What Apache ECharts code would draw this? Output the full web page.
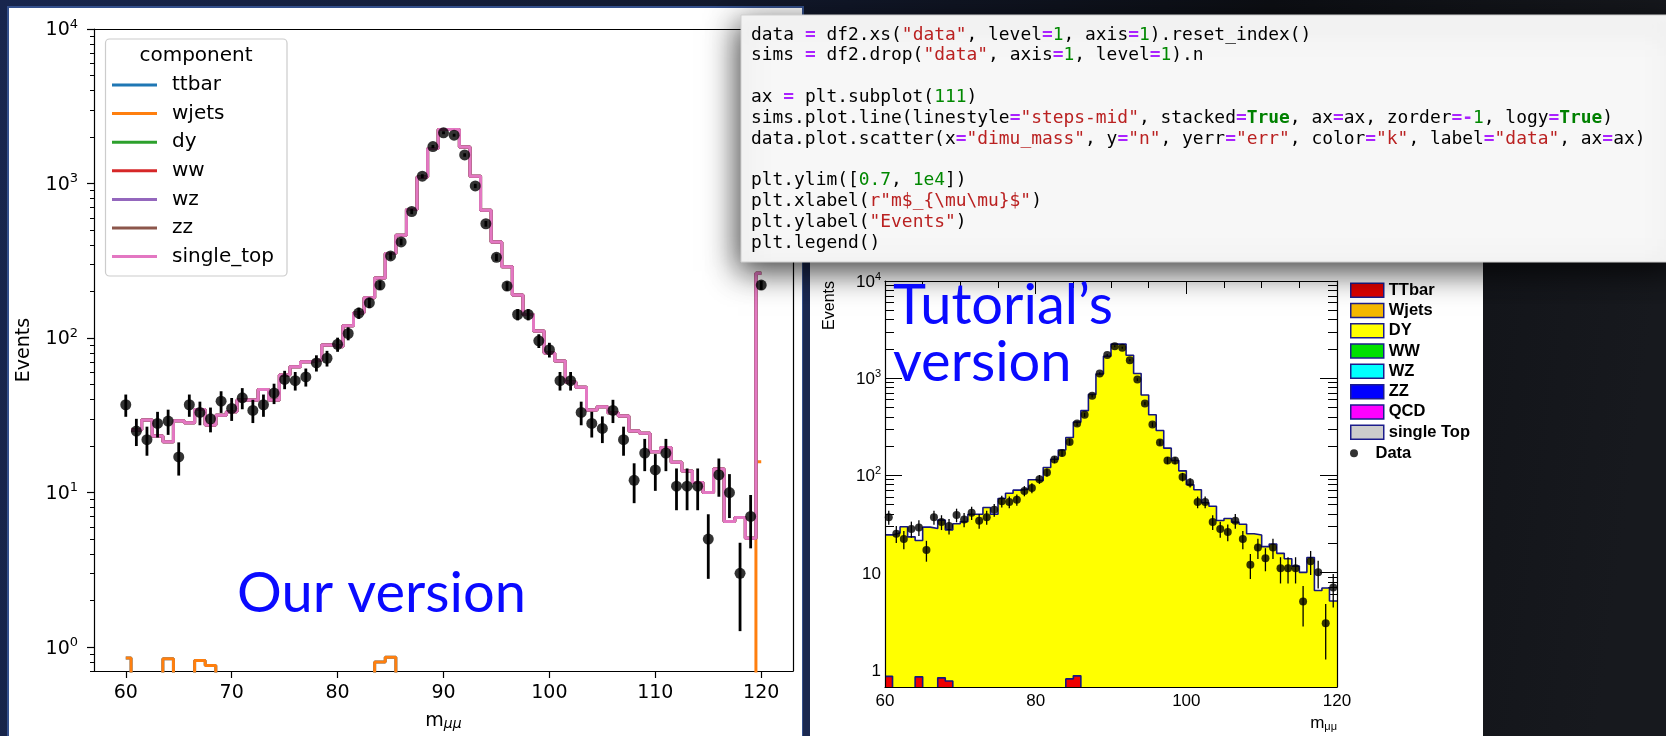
<!DOCTYPE html>
<html>
<head>
<meta charset="utf-8">
<script src="https://cdn.jsdelivr.net/npm/echarts@6/dist/echarts.min.js"></script>
<style>
html,body{margin:0;padding:0;background:#10162a;overflow:hidden;}
#c{width:1666px;height:736px;}
</style>
</head>
<body>
<div id="c"></div>
<script>
// ================= DATA =================
// dimuon mass bins (GeV): lower and upper edges
const binLow  = [60,61,62,63,64,65,66,67,68,69,70,71,72,73,74,75,76,77,78,79,80,81,82,83,84,85,86,87,88,89,
                 90,91,92,93,94,95,96,97,98,99,100,101,102,103,104,105,106,107,108,109,110,111,112,113,114,115,116,117,118,119];
const binHigh = [61,62,63,64,65,66,67,68,69,70,71,72,73,74,75,76,77,78,79,80,81,82,83,84,85,86,87,88,89,90,
                 91,92,93,94,95,96,97,98,99,100,101,102,103,104,105,106,107,108,109,110,111,112,113,114,115,116,117,118,119,120];
// observed events per bin
const dataCounts = [37,25,22,28,29,17,37,33,30,39,35,41,34,37,44,54,53,56,69,74,
                    91,107,145,169,220,340,419,659,1115,1735,2130,2055,1530,965,549,333,217,142,142,96,
                    84,53,53,33,28,26,34,22,12,18,14,18,11,11,11,5,13,10,3,7];
// total stacked simulation per bin (DY dominated)
const simTotal = [24.3,25.4,29.5,23.2,21.3,29.2,28.3,34.5,27.4,31.7,33.3,39.7,39.7,46.5,39.7,57.6,65.2,70.2,72,90,
                  87.7,120,146,182,245,352,463,680,1102,1682,2240,2240,1722,1114,671,419,289,190,142,111,
                  80,71,52,48,34.2,35.9,32.9,31.3,25,24.2,18.4,19.6,15.7,13.8,11.6,10.0,14.2,6.5,6.9,5.07];
// ttbar per bin
const ttbarCounts = [0.85,0,0,0,0.84,0,0,0.82,0.76,0,0,0,0,0,0,0,0,0,0,0,
                     0,0,0,0,0.80,0.86,0,0,0,0,0,0,0,0,0,0,0,0,0,0,
                     0,0,0,0,0,0,0,0,0,0,0,0,0,0,0,0,0,0,0,0];
// W+jets per bin
const wjetsCounts = [0,0,0,0,0,0,0,0,0,0,0,0,0,0,0,0,0,0,0,0,
                     0,0,0,0,0,0,0,0,0,0,0,0,0,0,0,0,0,0,0,0,
                     0,0,0,0,0,0,0,0,0,0,0,0,0,0,0,0,0,0,0,0];
// extra point at m = 120 in "our version"
const overflowMass = 120;
const overflowData = 220;
const overflowTotal = 263;
const overflowTtbarWjets = 15.8;
const overflowTtbar = 0;

// tick labels
const leftMassTicks = [60,70,80,90,100,110,120];
const decadeExponents = [0,1,2,3,4];

// legends
const componentNames  = ['ttbar','wjets','dy','ww','wz','zz','single_top'];
const componentColors = ['#1f77b4','#ff7f0e','#2ca02c','#d62728','#9467bd','#8c564b','#e377c2'];
const rootNames  = ['TTbar','Wjets','DY','WW','WZ','ZZ','QCD','single Top'];
const rootColors = ['#e00000','#f5b800','#ffff00','#00e000','#00ffff','#0000ff','#ff00ff','#cccccc'];

// code cell text
const codeLines = [
  'data = df2.xs("data", level=1, axis=1).reset_index()',
  'sims = df2.drop("data", axis=1, level=1).n',
  '',
  'ax = plt.subplot(111)',
  'sims.plot.line(linestyle="steps-mid", stacked=True, ax=ax, zorder=-1, logy=True)',
  'data.plot.scatter(x="dimu_mass", y="n", yerr="err", color="k", label="data", ax=ax)',
  '',
  'plt.ylim([0.7, 1e4])',
  'plt.xlabel(r"m$_{\\mu\\mu}$")',
  'plt.ylabel("Events")',
  'plt.legend()'
];

// ================= helpers =================
const FLOOR = -3; // log10 value used for empty bins (below the axis, clipped)
function lg(v){ return v == null ? null : (v > 0 ? Math.log10(v) : FLOOR); }

// matplotlib "steps-mid" vertices
function stepsMid(xs, ys){
  const pts = [];
  for (let i = 0; i < xs.length; i++){
    const y = ys[i];
    if (y == null){ pts.push('-'); continue; }
    const l = i === 0 ? xs[0] : (xs[i-1] + xs[i]) / 2;
    const r = i === xs.length - 1 ? xs[i] : (xs[i] + xs[i+1]) / 2;
    pts.push([l, lg(y)], [r, lg(y)]);
  }
  return pts;
}
// ROOT histogram outline
function histSteps(ys){
  const pts = [];
  for (let i = 0; i < ys.length; i++){
    pts.push([binLow[i], lg(ys[i])], [binHigh[i], lg(ys[i])]);
  }
  return pts;
}
function minorLogTicks(minLog, maxLog){
  const out = [];
  for (let k = -1; k <= 3; k++) for (let m = 2; m <= 9; m++){
    const v = Math.log10(m * Math.pow(10, k));
    if (v >= minLog - 1e-9 && v <= maxLog + 1e-9) out.push(v);
  }
  return out;
}

const mplFont = 'DejaVu Sans';
const rootFont = 'Liberation Sans';
const LEFT_YMIN = Math.log10(0.7);
const ROOT_YMIN = Math.log10(0.66);
const YMAX = 4;

// ---- left ("our version") arrays ----
const leftX = binLow.concat([overflowMass]);
const leftCounts = dataCounts.concat([overflowData]);
const ttbarLeft = ttbarCounts.concat([overflowTtbar]);
const wjetsCumLeft = ttbarCounts.map((v, i) => v + wjetsCounts[i]).concat([overflowTtbarWjets]);
// DY and later components have no entry for the first mass value in our version
const dyCumLeft = [null].concat(simTotal.slice(1), [overflowTotal]);
const leftCumulative = [ttbarLeft, wjetsCumLeft, dyCumLeft, dyCumLeft, dyCumLeft, dyCumLeft, dyCumLeft];

const rootCenters = binLow.map((lo, i) => (lo + binHigh[i]) / 2);

// ================= series =================
const series = [];
componentNames.forEach((name, i) => {
  series.push({
    type: 'line', name, xAxisIndex: 0, yAxisIndex: 0,
    data: stepsMid(leftX, leftCumulative[i]),
    showSymbol: false, symbol: 'none', connectNulls: false, clip: true, silent: true,
    lineStyle: { color: componentColors[i], width: 3 },
    itemStyle: { color: componentColors[i] },
    z: 2
  });
});
series.push({
  type: 'custom', name: 'data-err', xAxisIndex: 0, yAxisIndex: 0, silent: true, z: 4,
  data: leftCounts.map((n, i) => [leftX[i], lg(n - Math.sqrt(n)), lg(n + Math.sqrt(n))]),
  renderItem: (params, api) => {
    const a = api.coord([api.value(0), api.value(1)]);
    const b = api.coord([api.value(0), api.value(2)]);
    return { type: 'line', shape: { x1: a[0], y1: a[1], x2: b[0], y2: b[1] }, style: { stroke: '#000', lineWidth: 2.8 } };
  }
});
series.push({
  type: 'scatter', name: 'data', xAxisIndex: 0, yAxisIndex: 0, silent: true, z: 5,
  data: leftCounts.map((n, i) => [leftX[i], lg(n)]),
  symbol: 'circle', symbolSize: 11, itemStyle: { color: '#000' }
});

// ROOT ("tutorial's version")
series.push({
  type: 'line', name: 'DY', xAxisIndex: 2, yAxisIndex: 3, data: histSteps(simTotal),
  showSymbol: false, symbol: 'none', clip: true, silent: true,
  lineStyle: { color: '#161680', width: 1.6 },
  areaStyle: { color: '#ffff00', opacity: 1, origin: 'start' },
  itemStyle: { color: '#ffff00' }, z: 2
});
series.push({
  type: 'line', name: 'TTbar', xAxisIndex: 2, yAxisIndex: 3, data: histSteps(ttbarCounts),
  showSymbol: false, symbol: 'none', clip: true, silent: true,
  lineStyle: { color: '#161680', width: 1.6 },
  areaStyle: { color: '#ee0000', opacity: 1, origin: 'start' },
  itemStyle: { color: '#ee0000' }, z: 3
});
['Wjets','WW','WZ','ZZ','QCD','single Top'].forEach(name => {
  const c = rootColors[rootNames.indexOf(name)];
  series.push({ type: 'line', name, xAxisIndex: 2, yAxisIndex: 3, data: [], showSymbol: false,
    lineStyle: { color: c }, itemStyle: { color: c } });
});
series.push({
  type: 'custom', name: 'Data-err', xAxisIndex: 2, yAxisIndex: 3, silent: true, z: 5,
  data: dataCounts.map((n, i) => [rootCenters[i], lg(n - Math.sqrt(n)), lg(n + Math.sqrt(n))]),
  renderItem: (params, api) => {
    const a = api.coord([api.value(0), api.value(1)]);
    const b = api.coord([api.value(0), api.value(2)]);
    return { type: 'line', shape: { x1: a[0], y1: a[1], x2: b[0], y2: b[1] }, style: { stroke: '#000', lineWidth: 1.3 } };
  }
});
series.push({
  type: 'scatter', name: 'Data', xAxisIndex: 2, yAxisIndex: 3, silent: true, z: 6,
  data: dataCounts.map((n, i) => [rootCenters[i], lg(n)]),
  symbol: 'circle', symbolSize: 8, itemStyle: { color: '#000' }
});

// ================= axes =================
const blk = { color: '#000', width: 1.2 };
const none = { show: false };
const leftSupFmt = v => '{b|10}{sup|' + Math.round(v) + '}';
const rootFmt = v => { const e = Math.round(v); return e === 0 ? '{b|1}' : e === 1 ? '{b|10}' : '{b|10}{sup|' + e + '}'; };

const xAxis = [
  { gridIndex: 0, type: 'value', min: 57, max: 123, position: 'bottom',
    axisLine: { show: true, onZero: false, lineStyle: blk },
    axisTick: { show: true, inside: false, length: 7, customValues: leftMassTicks, lineStyle: blk },
    axisLabel: { show: true, customValues: leftMassTicks, margin: 13, color: '#000', fontFamily: mplFont, fontSize: 19 },
    splitLine: none,
    name: '{b|m}{sub|μμ}', nameLocation: 'middle', nameGap: 36,
    nameTextStyle: { color: '#000', fontFamily: mplFont, fontSize: 19,
      rich: { b: { fontFamily: mplFont, fontSize: 19, lineHeight: 24, verticalAlign: 'bottom', color: '#000' },
              sub: { fontFamily: mplFont, fontSize: 14, fontStyle: 'italic', lineHeight: 8, verticalAlign: 'bottom', color: '#000' } } } },
  { gridIndex: 0, type: 'value', min: 57, max: 123, position: 'top',
    axisLine: { show: true, onZero: false, lineStyle: blk }, axisTick: none, axisLabel: none, splitLine: none },
  { gridIndex: 1, type: 'value', min: 60, max: 120, interval: 20, position: 'bottom', z: 10,
    axisLine: { show: true, onZero: false, lineStyle: blk }, axisTick: none,
    axisLabel: { show: true, margin: 6, color: '#000', fontFamily: rootFont, fontSize: 17 }, splitLine: none },
  { gridIndex: 1, type: 'value', min: 60, max: 120, interval: 20, position: 'top',
    axisLine: { show: true, onZero: false, lineStyle: blk },
    axisTick: { show: true, inside: true, length: 13, lineStyle: { color: '#000', width: 1 } },
    minorTick: { show: true, splitNumber: 4, length: 7, lineStyle: { color: '#000', width: 1 } },
    axisLabel: none, splitLine: none }
];

const leftMinor = minorLogTicks(LEFT_YMIN, YMAX);
const rootMinor = minorLogTicks(ROOT_YMIN, YMAX);
const yAxis = [
  { gridIndex: 0, type: 'value', min: LEFT_YMIN, max: YMAX, position: 'left',
    axisLine: { show: true, onZero: false, lineStyle: blk },
    axisTick: { show: true, length: 7, customValues: decadeExponents, lineStyle: blk },
    axisLabel: { show: true, customValues: decadeExponents, formatter: leftSupFmt, margin: 16, color: '#000',
      rich: { b: { fontFamily: mplFont, fontSize: 19, lineHeight: 22, verticalAlign: 'bottom', color: '#000' },
              sup: { fontFamily: mplFont, fontSize: 13, lineHeight: 12.6, verticalAlign: 'top', color: '#000' } } },
    splitLine: none,
    name: 'Events', nameLocation: 'middle', nameGap: 60, nameRotate: 90,
    nameTextStyle: { color: '#000', fontFamily: mplFont, fontSize: 19 } },
  { gridIndex: 0, type: 'value', min: LEFT_YMIN, max: YMAX, position: 'left',
    axisLine: none, axisTick: { show: true, length: 4, customValues: leftMinor, lineStyle: { color: '#000', width: 1 } },
    axisLabel: none, splitLine: none },
  { gridIndex: 0, type: 'value', min: LEFT_YMIN, max: YMAX, position: 'right',
    axisLine: { show: true, onZero: false, lineStyle: blk }, axisTick: none, axisLabel: none, splitLine: none },
  // ROOT
  { gridIndex: 1, type: 'value', min: ROOT_YMIN, max: YMAX, position: 'left',
    axisLine: none, axisTick: { show: true, inside: true, length: 17, customValues: decadeExponents, lineStyle: { color: '#000', width: 1 } },
    axisLabel: { show: true, customValues: decadeExponents, formatter: rootFmt, margin: 4, color: '#000',
      rich: { b: { fontFamily: rootFont, fontSize: 17, lineHeight: 20, verticalAlign: 'bottom', color: '#000' },
              sup: { fontFamily: rootFont, fontSize: 11, lineHeight: 11, verticalAlign: 'top', color: '#000' } } },
    splitLine: none },
  { gridIndex: 1, type: 'value', min: ROOT_YMIN, max: YMAX, position: 'left',
    axisLine: none, axisTick: { show: true, inside: true, length: 9, customValues: rootMinor, lineStyle: { color: '#000', width: 1 } },
    axisLabel: none, splitLine: none },
  { gridIndex: 1, type: 'value', min: ROOT_YMIN, max: YMAX, position: 'right',
    axisLine: none, axisTick: { show: true, inside: true, length: 17, customValues: decadeExponents, lineStyle: { color: '#000', width: 1 } },
    axisLabel: none, splitLine: none },
  { gridIndex: 1, type: 'value', min: ROOT_YMIN, max: YMAX, position: 'right',
    axisLine: none, axisTick: { show: true, inside: true, length: 9, customValues: rootMinor, lineStyle: { color: '#000', width: 1 } },
    axisLabel: none, splitLine: none },
  { gridIndex: 1, type: 'value', min: ROOT_YMIN, max: YMAX, position: 'left', z: 10,
    axisLine: { show: true, onZero: false, lineStyle: blk }, axisTick: none, axisLabel: none, splitLine: none },
  { gridIndex: 1, type: 'value', min: ROOT_YMIN, max: YMAX, position: 'right', z: 10,
    axisLine: { show: true, onZero: false, lineStyle: blk }, axisTick: none, axisLabel: none, splitLine: none }
];

// ================= code cell (syntax coloured) =================
const codeStyles = {
  plain: { color: '#000000', bold: false },
  str:   { color: '#ba2121', bold: false },
  kw:    { color: '#008000', bold: true },
  op:    { color: '#aa22ff', bold: true },
  num:   { color: '#008800', bold: false }
};
function tokenize(line){
  const re = /(\br"[^"]*"|"[^"]*")|(\bTrue\b)|(=-|=)|(\b\d+(?:\.\d+)?(?:e\d+)?\b)/g;
  const out = []; let last = 0, m;
  while ((m = re.exec(line))){
    if (m.index > last) out.push({ t: line.slice(last, m.index), k: 'plain', col: last });
    out.push({ t: m[0], k: m[1] ? 'str' : m[2] ? 'kw' : m[3] ? 'op' : 'num', col: m.index });
    last = m.index + m[0].length;
  }
  if (last < line.length) out.push({ t: line.slice(last), k: 'plain', col: last });
  return out;
}
const CODE_X = 751, CODE_Y0 = 35, CODE_DY = 20.8, CODE_FS = 17.9, CODE_CW = CODE_FS * 0.60205;
const codeEls = [];
codeLines.forEach((line, li) => {
  tokenize(line).forEach(tok => {
    const st = codeStyles[tok.k];
    codeEls.push({ type: 'text', z: 52, silent: true, x: CODE_X + tok.col * CODE_CW, y: CODE_Y0 + li * CODE_DY,
      style: { text: tok.t, x: 0, y: 0, fill: st.color, fontSize: CODE_FS, fontFamily: 'DejaVu Sans Mono',
               fontWeight: st.bold ? 'bold' : 'normal', align: 'left', verticalAlign: 'middle',
               textAlign: 'left', textVerticalAlign: 'middle' } });
  });
});

function txt(x, y, text, opts){
  return Object.assign({ type: 'text', silent: true, x, y,
    style: Object.assign({ text, x: 0, y: 0 }, opts.style) }, opts.el || {});
}

const graphicEls = [
  // slide background
  { type: 'rect', z: -100, silent: true, shape: { x: 0, y: 0, width: 1666, height: 736 },
    style: { fill: { type: 'linear', x: 0, y: 0, x2: 1, y2: 0.3,
      colorStops: [{ offset: 0, color: '#18264e' }, { offset: 0.5, color: '#111728' }, { offset: 0.75, color: '#0d0f14' }, { offset: 1, color: '#17191e' }] } } },
  // left white panel
  { type: 'rect', z: -90, silent: true, shape: { x: 8, y: 7, width: 795, height: 740 },
    style: { fill: '#ffffff', stroke: '#34508c', lineWidth: 2 } },
  // gap between panels
  { type: 'rect', z: -89, silent: true, shape: { x: 803, y: 240, width: 7, height: 500 }, style: { fill: '#1a2850' } },
  // right white panel
  { type: 'rect', z: -88, silent: true, shape: { x: 810, y: 230, width: 673, height: 520 }, style: { fill: '#ffffff' } },
  // left legend frame and title
  { type: 'rect', z: 3, silent: true, shape: { x: 105.5, y: 39, width: 181.5, height: 237, r: 4 },
    style: { fill: 'rgba(255,255,255,0.8)', stroke: '#cccccc', lineWidth: 1.2 } },
  txt(196, 56, 'component', { el: { z: 4 }, style: { fill: '#000', fontFamily: mplFont, fontSize: 20,
    align: 'center', verticalAlign: 'middle', textAlign: 'center', textVerticalAlign: 'middle' } }),
  // ROOT axis titles
  txt(830, 281, 'Events', { el: { z: 5, rotation: Math.PI / 2 }, style: { fill: '#000', fontFamily: rootFont, fontSize: 16,
    align: 'right', verticalAlign: 'middle', textAlign: 'right', textVerticalAlign: 'middle' } }),
  txt(1337, 722, '{b|m}{sub|μμ}', { el: { z: 5 }, style: { fill: '#000', fontFamily: rootFont, fontSize: 17,
    align: 'right', verticalAlign: 'middle', textAlign: 'right', textVerticalAlign: 'middle',
    rich: { b: { fontFamily: rootFont, fontSize: 17, lineHeight: 20, verticalAlign: 'bottom', fill: '#000' },
            sub: { fontFamily: rootFont, fontSize: 11, lineHeight: 7, verticalAlign: 'bottom', fill: '#000' } } } }),
  // code cell box
  { type: 'rect', z: 50, silent: true, shape: { x: 741, y: 15, width: 940, height: 247 },
    style: { fill: '#f7f7f7', stroke: '#cfcfcf', lineWidth: 1, shadowBlur: 30, shadowColor: 'rgba(0,0,0,0.75)', shadowOffsetX: -3, shadowOffsetY: 9 } },
  ...codeEls,
  // annotations
  txt(237, 594, 'Our version', { el: { z: 60 }, style: { fill: '#0a0aff', fontFamily: 'Lato', fontSize: 56,
    align: 'left', verticalAlign: 'middle', textAlign: 'left', textVerticalAlign: 'middle' } }),
  txt(893, 306, 'Tutorial’s', { el: { z: 60 }, style: { fill: '#0a0aff', fontFamily: 'Lato', fontSize: 56,
    align: 'left', verticalAlign: 'middle', textAlign: 'left', textVerticalAlign: 'middle' } }),
  txt(893, 363, 'version', { el: { z: 60 }, style: { fill: '#0a0aff', fontFamily: 'Lato', fontSize: 56,
    align: 'left', verticalAlign: 'middle', textAlign: 'left', textVerticalAlign: 'middle' } })
];

// ================= chart =================
const chart = echarts.init(document.getElementById('c'), null, { renderer: 'canvas', width: 1666, height: 736 });
chart.setOption({
  animation: false,
  backgroundColor: '#10162a',
  grid: [
    { left: 94, top: 29, width: 699, height: 642, containLabel: false },
    { left: 885, top: 281, width: 452, height: 406, containLabel: false }
  ],
  xAxis, yAxis,
  legend: [
    { data: componentNames.map((n, i) => ({ name: n, icon: 'rect', itemStyle: { color: componentColors[i], borderWidth: 0 } })),
      orient: 'vertical', left: 112, top: 70.7, padding: 0, itemGap: 0, itemWidth: 45, itemHeight: 3,
      selectedMode: false, z: 5,
      textStyle: { fontFamily: mplFont, fontSize: 20, color: '#000', lineHeight: 28.6, padding: [0, 0, 0, 10] } },
    { data: rootNames.map((n, i) => ({ name: n, icon: 'rect', itemStyle: { color: rootColors[i], borderColor: '#1c1c8c', borderWidth: 1.5 } })),
      orient: 'vertical', left: 1350, top: 280, padding: 0, itemGap: 0, itemWidth: 33, itemHeight: 14,
      selectedMode: false, z: 5,
      textStyle: { fontFamily: rootFont, fontWeight: 'bold', fontSize: 16.5, color: '#000', lineHeight: 20.3 } },
    { data: [{ name: 'Data', icon: 'circle', itemStyle: { color: '#000' } }],
      orient: 'vertical', left: 1350, top: 443, padding: 0, itemGap: 0, itemWidth: 33, itemHeight: 8,
      selectedMode: false, z: 5,
      textStyle: { fontFamily: rootFont, fontWeight: 'bold', fontSize: 16.5, color: '#000', lineHeight: 20.3 } }
  ],
  graphic: { elements: graphicEls },
  series
});
</script>
</body>
</html>
